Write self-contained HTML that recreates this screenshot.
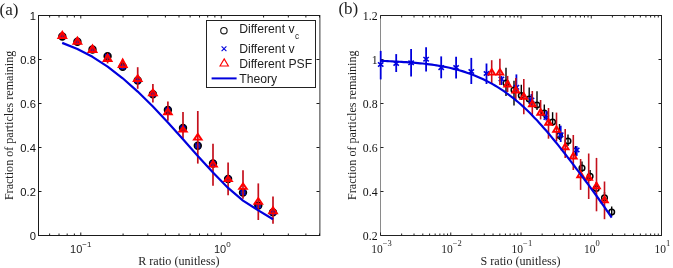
<!DOCTYPE html>
<html><head><meta charset="utf-8"><style>
html,body{margin:0;padding:0;background:#fff;width:673px;height:268px;overflow:hidden}
svg{display:block;will-change:transform}
</style></head><body>
<svg width="673" height="268" viewBox="0 0 673 268">
<rect width="673" height="268" fill="#fff"/>
<line x1="38.0" y1="15.5" x2="320.0" y2="15.5" stroke="#1a1a1a" stroke-width="1"/>
<line x1="38.0" y1="235.5" x2="320.0" y2="235.5" stroke="#1a1a1a" stroke-width="1"/>
<line x1="38.5" y1="15.0" x2="38.5" y2="236.0" stroke="#1a1a1a" stroke-width="1"/>
<line x1="319.9" y1="15.0" x2="319.9" y2="236.0" stroke="#333" stroke-width="1"/>
<line x1="38.5" y1="235.50" x2="41.5" y2="235.50" stroke="#1a1a1a" stroke-width="1"/>
<line x1="319.5" y1="235.50" x2="316.5" y2="235.50" stroke="#1a1a1a" stroke-width="1"/>
<line x1="38.5" y1="191.50" x2="41.5" y2="191.50" stroke="#1a1a1a" stroke-width="1"/>
<line x1="319.5" y1="191.50" x2="316.5" y2="191.50" stroke="#1a1a1a" stroke-width="1"/>
<line x1="38.5" y1="147.50" x2="41.5" y2="147.50" stroke="#1a1a1a" stroke-width="1"/>
<line x1="319.5" y1="147.50" x2="316.5" y2="147.50" stroke="#1a1a1a" stroke-width="1"/>
<line x1="38.5" y1="103.50" x2="41.5" y2="103.50" stroke="#1a1a1a" stroke-width="1"/>
<line x1="319.5" y1="103.50" x2="316.5" y2="103.50" stroke="#1a1a1a" stroke-width="1"/>
<line x1="38.5" y1="59.50" x2="41.5" y2="59.50" stroke="#1a1a1a" stroke-width="1"/>
<line x1="319.5" y1="59.50" x2="316.5" y2="59.50" stroke="#1a1a1a" stroke-width="1"/>
<line x1="38.5" y1="15.50" x2="41.5" y2="15.50" stroke="#1a1a1a" stroke-width="1"/>
<line x1="319.5" y1="15.50" x2="316.5" y2="15.50" stroke="#1a1a1a" stroke-width="1"/>
<line x1="38.50" y1="235.5" x2="38.50" y2="233.5" stroke="#1a1a1a" stroke-width="1"/>
<line x1="38.50" y1="15.5" x2="38.50" y2="17.5" stroke="#1a1a1a" stroke-width="1"/>
<line x1="49.62" y1="235.5" x2="49.62" y2="233.5" stroke="#1a1a1a" stroke-width="1"/>
<line x1="49.62" y1="15.5" x2="49.62" y2="17.5" stroke="#1a1a1a" stroke-width="1"/>
<line x1="59.03" y1="235.5" x2="59.03" y2="233.5" stroke="#1a1a1a" stroke-width="1"/>
<line x1="59.03" y1="15.5" x2="59.03" y2="17.5" stroke="#1a1a1a" stroke-width="1"/>
<line x1="67.18" y1="235.5" x2="67.18" y2="233.5" stroke="#1a1a1a" stroke-width="1"/>
<line x1="67.18" y1="15.5" x2="67.18" y2="17.5" stroke="#1a1a1a" stroke-width="1"/>
<line x1="74.37" y1="235.5" x2="74.37" y2="233.5" stroke="#1a1a1a" stroke-width="1"/>
<line x1="74.37" y1="15.5" x2="74.37" y2="17.5" stroke="#1a1a1a" stroke-width="1"/>
<line x1="80.79" y1="235.5" x2="80.79" y2="232.5" stroke="#1a1a1a" stroke-width="1"/>
<line x1="80.79" y1="15.5" x2="80.79" y2="18.5" stroke="#1a1a1a" stroke-width="1"/>
<line x1="123.09" y1="235.5" x2="123.09" y2="233.5" stroke="#1a1a1a" stroke-width="1"/>
<line x1="123.09" y1="15.5" x2="123.09" y2="17.5" stroke="#1a1a1a" stroke-width="1"/>
<line x1="147.83" y1="235.5" x2="147.83" y2="233.5" stroke="#1a1a1a" stroke-width="1"/>
<line x1="147.83" y1="15.5" x2="147.83" y2="17.5" stroke="#1a1a1a" stroke-width="1"/>
<line x1="165.38" y1="235.5" x2="165.38" y2="233.5" stroke="#1a1a1a" stroke-width="1"/>
<line x1="165.38" y1="15.5" x2="165.38" y2="17.5" stroke="#1a1a1a" stroke-width="1"/>
<line x1="179.00" y1="235.5" x2="179.00" y2="233.5" stroke="#1a1a1a" stroke-width="1"/>
<line x1="179.00" y1="15.5" x2="179.00" y2="17.5" stroke="#1a1a1a" stroke-width="1"/>
<line x1="190.12" y1="235.5" x2="190.12" y2="233.5" stroke="#1a1a1a" stroke-width="1"/>
<line x1="190.12" y1="15.5" x2="190.12" y2="17.5" stroke="#1a1a1a" stroke-width="1"/>
<line x1="199.53" y1="235.5" x2="199.53" y2="233.5" stroke="#1a1a1a" stroke-width="1"/>
<line x1="199.53" y1="15.5" x2="199.53" y2="17.5" stroke="#1a1a1a" stroke-width="1"/>
<line x1="207.68" y1="235.5" x2="207.68" y2="233.5" stroke="#1a1a1a" stroke-width="1"/>
<line x1="207.68" y1="15.5" x2="207.68" y2="17.5" stroke="#1a1a1a" stroke-width="1"/>
<line x1="214.87" y1="235.5" x2="214.87" y2="233.5" stroke="#1a1a1a" stroke-width="1"/>
<line x1="214.87" y1="15.5" x2="214.87" y2="17.5" stroke="#1a1a1a" stroke-width="1"/>
<line x1="221.29" y1="235.5" x2="221.29" y2="232.5" stroke="#1a1a1a" stroke-width="1"/>
<line x1="221.29" y1="15.5" x2="221.29" y2="18.5" stroke="#1a1a1a" stroke-width="1"/>
<line x1="263.59" y1="235.5" x2="263.59" y2="233.5" stroke="#1a1a1a" stroke-width="1"/>
<line x1="263.59" y1="15.5" x2="263.59" y2="17.5" stroke="#1a1a1a" stroke-width="1"/>
<line x1="288.33" y1="235.5" x2="288.33" y2="233.5" stroke="#1a1a1a" stroke-width="1"/>
<line x1="288.33" y1="15.5" x2="288.33" y2="17.5" stroke="#1a1a1a" stroke-width="1"/>
<line x1="305.88" y1="235.5" x2="305.88" y2="233.5" stroke="#1a1a1a" stroke-width="1"/>
<line x1="305.88" y1="15.5" x2="305.88" y2="17.5" stroke="#1a1a1a" stroke-width="1"/>
<line x1="319.50" y1="235.5" x2="319.50" y2="233.5" stroke="#1a1a1a" stroke-width="1"/>
<line x1="319.50" y1="15.5" x2="319.50" y2="17.5" stroke="#1a1a1a" stroke-width="1"/>
<line x1="380.0" y1="15.5" x2="662.0" y2="15.5" stroke="#222" stroke-width="1"/>
<line x1="380.0" y1="235.5" x2="662.0" y2="235.5" stroke="#222" stroke-width="1"/>
<line x1="380.5" y1="15.0" x2="380.5" y2="236.0" stroke="#8a8a8a" stroke-width="1"/>
<line x1="661.5" y1="15.0" x2="661.5" y2="236.0" stroke="#222" stroke-width="1"/>
<line x1="380.5" y1="235.50" x2="383.5" y2="235.50" stroke="#222" stroke-width="1"/>
<line x1="661.5" y1="235.50" x2="658.5" y2="235.50" stroke="#222" stroke-width="1"/>
<line x1="380.5" y1="191.50" x2="383.5" y2="191.50" stroke="#222" stroke-width="1"/>
<line x1="661.5" y1="191.50" x2="658.5" y2="191.50" stroke="#222" stroke-width="1"/>
<line x1="380.5" y1="147.50" x2="383.5" y2="147.50" stroke="#222" stroke-width="1"/>
<line x1="661.5" y1="147.50" x2="658.5" y2="147.50" stroke="#222" stroke-width="1"/>
<line x1="380.5" y1="103.50" x2="383.5" y2="103.50" stroke="#222" stroke-width="1"/>
<line x1="661.5" y1="103.50" x2="658.5" y2="103.50" stroke="#222" stroke-width="1"/>
<line x1="380.5" y1="59.50" x2="383.5" y2="59.50" stroke="#222" stroke-width="1"/>
<line x1="661.5" y1="59.50" x2="658.5" y2="59.50" stroke="#222" stroke-width="1"/>
<line x1="380.5" y1="15.50" x2="383.5" y2="15.50" stroke="#222" stroke-width="1"/>
<line x1="661.5" y1="15.50" x2="658.5" y2="15.50" stroke="#222" stroke-width="1"/>
<line x1="380.50" y1="235.5" x2="380.50" y2="232.5" stroke="#222" stroke-width="1"/>
<line x1="380.50" y1="15.5" x2="380.50" y2="18.5" stroke="#222" stroke-width="1"/>
<line x1="401.65" y1="235.5" x2="401.65" y2="233.5" stroke="#222" stroke-width="1"/>
<line x1="401.65" y1="15.5" x2="401.65" y2="17.5" stroke="#222" stroke-width="1"/>
<line x1="414.02" y1="235.5" x2="414.02" y2="233.5" stroke="#222" stroke-width="1"/>
<line x1="414.02" y1="15.5" x2="414.02" y2="17.5" stroke="#222" stroke-width="1"/>
<line x1="422.79" y1="235.5" x2="422.79" y2="233.5" stroke="#222" stroke-width="1"/>
<line x1="422.79" y1="15.5" x2="422.79" y2="17.5" stroke="#222" stroke-width="1"/>
<line x1="429.60" y1="235.5" x2="429.60" y2="233.5" stroke="#222" stroke-width="1"/>
<line x1="429.60" y1="15.5" x2="429.60" y2="17.5" stroke="#222" stroke-width="1"/>
<line x1="435.17" y1="235.5" x2="435.17" y2="233.5" stroke="#222" stroke-width="1"/>
<line x1="435.17" y1="15.5" x2="435.17" y2="17.5" stroke="#222" stroke-width="1"/>
<line x1="439.87" y1="235.5" x2="439.87" y2="233.5" stroke="#222" stroke-width="1"/>
<line x1="439.87" y1="15.5" x2="439.87" y2="17.5" stroke="#222" stroke-width="1"/>
<line x1="443.94" y1="235.5" x2="443.94" y2="233.5" stroke="#222" stroke-width="1"/>
<line x1="443.94" y1="15.5" x2="443.94" y2="17.5" stroke="#222" stroke-width="1"/>
<line x1="447.54" y1="235.5" x2="447.54" y2="233.5" stroke="#222" stroke-width="1"/>
<line x1="447.54" y1="15.5" x2="447.54" y2="17.5" stroke="#222" stroke-width="1"/>
<line x1="450.75" y1="235.5" x2="450.75" y2="232.5" stroke="#222" stroke-width="1"/>
<line x1="450.75" y1="15.5" x2="450.75" y2="18.5" stroke="#222" stroke-width="1"/>
<line x1="471.90" y1="235.5" x2="471.90" y2="233.5" stroke="#222" stroke-width="1"/>
<line x1="471.90" y1="15.5" x2="471.90" y2="17.5" stroke="#222" stroke-width="1"/>
<line x1="484.27" y1="235.5" x2="484.27" y2="233.5" stroke="#222" stroke-width="1"/>
<line x1="484.27" y1="15.5" x2="484.27" y2="17.5" stroke="#222" stroke-width="1"/>
<line x1="493.04" y1="235.5" x2="493.04" y2="233.5" stroke="#222" stroke-width="1"/>
<line x1="493.04" y1="15.5" x2="493.04" y2="17.5" stroke="#222" stroke-width="1"/>
<line x1="499.85" y1="235.5" x2="499.85" y2="233.5" stroke="#222" stroke-width="1"/>
<line x1="499.85" y1="15.5" x2="499.85" y2="17.5" stroke="#222" stroke-width="1"/>
<line x1="505.42" y1="235.5" x2="505.42" y2="233.5" stroke="#222" stroke-width="1"/>
<line x1="505.42" y1="15.5" x2="505.42" y2="17.5" stroke="#222" stroke-width="1"/>
<line x1="510.12" y1="235.5" x2="510.12" y2="233.5" stroke="#222" stroke-width="1"/>
<line x1="510.12" y1="15.5" x2="510.12" y2="17.5" stroke="#222" stroke-width="1"/>
<line x1="514.19" y1="235.5" x2="514.19" y2="233.5" stroke="#222" stroke-width="1"/>
<line x1="514.19" y1="15.5" x2="514.19" y2="17.5" stroke="#222" stroke-width="1"/>
<line x1="517.79" y1="235.5" x2="517.79" y2="233.5" stroke="#222" stroke-width="1"/>
<line x1="517.79" y1="15.5" x2="517.79" y2="17.5" stroke="#222" stroke-width="1"/>
<line x1="521.00" y1="235.5" x2="521.00" y2="232.5" stroke="#222" stroke-width="1"/>
<line x1="521.00" y1="15.5" x2="521.00" y2="18.5" stroke="#222" stroke-width="1"/>
<line x1="542.15" y1="235.5" x2="542.15" y2="233.5" stroke="#222" stroke-width="1"/>
<line x1="542.15" y1="15.5" x2="542.15" y2="17.5" stroke="#222" stroke-width="1"/>
<line x1="554.52" y1="235.5" x2="554.52" y2="233.5" stroke="#222" stroke-width="1"/>
<line x1="554.52" y1="15.5" x2="554.52" y2="17.5" stroke="#222" stroke-width="1"/>
<line x1="563.29" y1="235.5" x2="563.29" y2="233.5" stroke="#222" stroke-width="1"/>
<line x1="563.29" y1="15.5" x2="563.29" y2="17.5" stroke="#222" stroke-width="1"/>
<line x1="570.10" y1="235.5" x2="570.10" y2="233.5" stroke="#222" stroke-width="1"/>
<line x1="570.10" y1="15.5" x2="570.10" y2="17.5" stroke="#222" stroke-width="1"/>
<line x1="575.67" y1="235.5" x2="575.67" y2="233.5" stroke="#222" stroke-width="1"/>
<line x1="575.67" y1="15.5" x2="575.67" y2="17.5" stroke="#222" stroke-width="1"/>
<line x1="580.37" y1="235.5" x2="580.37" y2="233.5" stroke="#222" stroke-width="1"/>
<line x1="580.37" y1="15.5" x2="580.37" y2="17.5" stroke="#222" stroke-width="1"/>
<line x1="584.44" y1="235.5" x2="584.44" y2="233.5" stroke="#222" stroke-width="1"/>
<line x1="584.44" y1="15.5" x2="584.44" y2="17.5" stroke="#222" stroke-width="1"/>
<line x1="588.04" y1="235.5" x2="588.04" y2="233.5" stroke="#222" stroke-width="1"/>
<line x1="588.04" y1="15.5" x2="588.04" y2="17.5" stroke="#222" stroke-width="1"/>
<line x1="591.25" y1="235.5" x2="591.25" y2="232.5" stroke="#222" stroke-width="1"/>
<line x1="591.25" y1="15.5" x2="591.25" y2="18.5" stroke="#222" stroke-width="1"/>
<line x1="612.40" y1="235.5" x2="612.40" y2="233.5" stroke="#222" stroke-width="1"/>
<line x1="612.40" y1="15.5" x2="612.40" y2="17.5" stroke="#222" stroke-width="1"/>
<line x1="624.77" y1="235.5" x2="624.77" y2="233.5" stroke="#222" stroke-width="1"/>
<line x1="624.77" y1="15.5" x2="624.77" y2="17.5" stroke="#222" stroke-width="1"/>
<line x1="633.54" y1="235.5" x2="633.54" y2="233.5" stroke="#222" stroke-width="1"/>
<line x1="633.54" y1="15.5" x2="633.54" y2="17.5" stroke="#222" stroke-width="1"/>
<line x1="640.35" y1="235.5" x2="640.35" y2="233.5" stroke="#222" stroke-width="1"/>
<line x1="640.35" y1="15.5" x2="640.35" y2="17.5" stroke="#222" stroke-width="1"/>
<line x1="645.92" y1="235.5" x2="645.92" y2="233.5" stroke="#222" stroke-width="1"/>
<line x1="645.92" y1="15.5" x2="645.92" y2="17.5" stroke="#222" stroke-width="1"/>
<line x1="650.62" y1="235.5" x2="650.62" y2="233.5" stroke="#222" stroke-width="1"/>
<line x1="650.62" y1="15.5" x2="650.62" y2="17.5" stroke="#222" stroke-width="1"/>
<line x1="654.69" y1="235.5" x2="654.69" y2="233.5" stroke="#222" stroke-width="1"/>
<line x1="654.69" y1="15.5" x2="654.69" y2="17.5" stroke="#222" stroke-width="1"/>
<line x1="658.29" y1="235.5" x2="658.29" y2="233.5" stroke="#222" stroke-width="1"/>
<line x1="658.29" y1="15.5" x2="658.29" y2="17.5" stroke="#222" stroke-width="1"/>
<line x1="661.50" y1="235.5" x2="661.50" y2="232.5" stroke="#222" stroke-width="1"/>
<line x1="661.50" y1="15.5" x2="661.50" y2="18.5" stroke="#222" stroke-width="1"/>
<text x="35.90" y="240.00" font-family='"Liberation Sans", sans-serif' font-size="11.2" text-anchor="end" fill="#111">0</text>
<text x="35.90" y="196.00" font-family='"Liberation Sans", sans-serif' font-size="11.2" text-anchor="end" fill="#111">0.2</text>
<text x="35.90" y="152.00" font-family='"Liberation Sans", sans-serif' font-size="11.2" text-anchor="end" fill="#111">0.4</text>
<text x="35.90" y="108.00" font-family='"Liberation Sans", sans-serif' font-size="11.2" text-anchor="end" fill="#111">0.6</text>
<text x="35.90" y="64.00" font-family='"Liberation Sans", sans-serif' font-size="11.2" text-anchor="end" fill="#111">0.8</text>
<text x="35.90" y="20.00" font-family='"Liberation Sans", sans-serif' font-size="11.2" text-anchor="end" fill="#111">1</text>
<text x="377.60" y="239.90" font-family='"Liberation Serif", serif' font-size="11.8" text-anchor="end" fill="#111">0.2</text>
<text x="377.60" y="195.90" font-family='"Liberation Serif", serif' font-size="11.8" text-anchor="end" fill="#111">0.4</text>
<text x="377.60" y="151.90" font-family='"Liberation Serif", serif' font-size="11.8" text-anchor="end" fill="#111">0.6</text>
<text x="377.60" y="107.90" font-family='"Liberation Serif", serif' font-size="11.8" text-anchor="end" fill="#111">0.8</text>
<text x="377.60" y="63.90" font-family='"Liberation Serif", serif' font-size="11.8" text-anchor="end" fill="#111">1</text>
<text x="377.60" y="19.90" font-family='"Liberation Serif", serif' font-size="11.8" text-anchor="end" fill="#111">1.2</text>
<text x="70.10" y="253.30" font-family='"Liberation Sans", sans-serif' font-size="11" fill="#1e1e1e">10<tspan font-size="8" dy="-6.8">&#8722;1</tspan></text>
<text x="213.90" y="253.30" font-family='"Liberation Sans", sans-serif' font-size="11" fill="#1e1e1e">10<tspan font-size="8" dy="-6.8">0</tspan></text>
<text x="371.20" y="252.60" font-family='"Liberation Serif", serif' font-size="11.5" fill="#1e1e1e">10<tspan font-size="8.5" dy="-6.8">&#8722;3</tspan></text>
<text x="441.30" y="252.60" font-family='"Liberation Serif", serif' font-size="11.5" fill="#1e1e1e">10<tspan font-size="8.5" dy="-6.8">&#8722;2</tspan></text>
<text x="511.60" y="252.60" font-family='"Liberation Serif", serif' font-size="11.5" fill="#1e1e1e">10<tspan font-size="8.5" dy="-6.8">&#8722;1</tspan></text>
<text x="584.10" y="252.60" font-family='"Liberation Serif", serif' font-size="11.5" fill="#1e1e1e">10<tspan font-size="8.5" dy="-6.8">0</tspan></text>
<text x="654.40" y="252.60" font-family='"Liberation Serif", serif' font-size="11.5" fill="#1e1e1e">10<tspan font-size="8.5" dy="-6.8">1</tspan></text>
<text x="178.8" y="265" font-family='"Liberation Serif", serif' font-size="12.1" text-anchor="middle" fill="#1e1e1e">R ratio (unitless)</text>
<text x="520.5" y="264.8" font-family='"Liberation Serif", serif' font-size="12.1" text-anchor="middle" fill="#1e1e1e">S ratio (unitless)</text>
<text transform="translate(12.6,125.4) rotate(-90)" font-family='"Liberation Serif", serif' font-size="12.1" text-anchor="middle" fill="#1e1e1e">Fraction of particles remaining</text>
<text transform="translate(356.0,125.2) rotate(-90)" font-family='"Liberation Serif", serif' font-size="12.1" text-anchor="middle" fill="#1e1e1e">Fraction of particles remaining</text>
<text x="-0.4" y="14.6" font-family='"Liberation Serif", serif' font-size="17" fill="#1e1e1e">(a)</text>
<text x="338.4" y="14.4" font-family='"Liberation Serif", serif' font-size="17" fill="#1e1e1e">(b)</text>
<circle cx="62.30" cy="36.50" r="3.4" fill="#2c2c8c" stroke="#000" stroke-width="1.6"/>
<circle cx="77.40" cy="41.70" r="3.4" fill="#2c2c8c" stroke="#000" stroke-width="1.6"/>
<circle cx="92.50" cy="49.50" r="3.4" fill="#2c2c8c" stroke="#000" stroke-width="1.6"/>
<circle cx="107.60" cy="56.30" r="3.4" fill="#2c2c8c" stroke="#000" stroke-width="1.6"/>
<circle cx="122.70" cy="66.80" r="3.4" fill="#2c2c8c" stroke="#000" stroke-width="1.6"/>
<circle cx="137.70" cy="80.50" r="3.4" fill="#2c2c8c" stroke="#000" stroke-width="1.6"/>
<circle cx="152.90" cy="94.20" r="3.4" fill="#2c2c8c" stroke="#000" stroke-width="1.6"/>
<circle cx="167.90" cy="110.00" r="3.4" fill="#2c2c8c" stroke="#000" stroke-width="1.6"/>
<circle cx="183.00" cy="128.00" r="3.4" fill="#2c2c8c" stroke="#000" stroke-width="1.6"/>
<circle cx="197.80" cy="145.80" r="3.4" fill="#2c2c8c" stroke="#000" stroke-width="1.6"/>
<circle cx="213.00" cy="163.50" r="3.4" fill="#2c2c8c" stroke="#000" stroke-width="1.6"/>
<circle cx="228.10" cy="179.00" r="3.4" fill="#2c2c8c" stroke="#000" stroke-width="1.6"/>
<circle cx="243.00" cy="192.60" r="3.4" fill="#2c2c8c" stroke="#000" stroke-width="1.6"/>
<circle cx="258.30" cy="205.60" r="3.4" fill="#2c2c8c" stroke="#000" stroke-width="1.6"/>
<circle cx="273.00" cy="212.40" r="3.4" fill="#2c2c8c" stroke="#000" stroke-width="1.6"/>
<path d="M59.90,34.10 L64.70,38.90 M64.70,34.10 L59.90,38.90" stroke="#0000dd" stroke-width="1.3"/>
<path d="M75.00,39.30 L79.80,44.10 M79.80,39.30 L75.00,44.10" stroke="#0000dd" stroke-width="1.3"/>
<path d="M90.10,47.10 L94.90,51.90 M94.90,47.10 L90.10,51.90" stroke="#0000dd" stroke-width="1.3"/>
<path d="M105.20,53.90 L110.00,58.70 M110.00,53.90 L105.20,58.70" stroke="#0000dd" stroke-width="1.3"/>
<path d="M120.30,64.40 L125.10,69.20 M125.10,64.40 L120.30,69.20" stroke="#0000dd" stroke-width="1.3"/>
<path d="M135.30,78.10 L140.10,82.90 M140.10,78.10 L135.30,82.90" stroke="#0000dd" stroke-width="1.3"/>
<path d="M150.50,91.80 L155.30,96.60 M155.30,91.80 L150.50,96.60" stroke="#0000dd" stroke-width="1.3"/>
<path d="M165.50,107.60 L170.30,112.40 M170.30,107.60 L165.50,112.40" stroke="#0000dd" stroke-width="1.3"/>
<path d="M180.60,125.60 L185.40,130.40 M185.40,125.60 L180.60,130.40" stroke="#0000dd" stroke-width="1.3"/>
<path d="M195.40,143.40 L200.20,148.20 M200.20,143.40 L195.40,148.20" stroke="#0000dd" stroke-width="1.3"/>
<path d="M210.60,161.10 L215.40,165.90 M215.40,161.10 L210.60,165.90" stroke="#0000dd" stroke-width="1.3"/>
<path d="M225.70,176.60 L230.50,181.40 M230.50,176.60 L225.70,181.40" stroke="#0000dd" stroke-width="1.3"/>
<path d="M240.60,190.20 L245.40,195.00 M245.40,190.20 L240.60,195.00" stroke="#0000dd" stroke-width="1.3"/>
<path d="M255.90,203.20 L260.70,208.00 M260.70,203.20 L255.90,208.00" stroke="#0000dd" stroke-width="1.3"/>
<path d="M270.60,210.00 L275.40,214.80 M275.40,210.00 L270.60,214.80" stroke="#0000dd" stroke-width="1.3"/>
<line x1="62.30" y1="32.00" x2="62.30" y2="38.00" stroke="#c4101c" stroke-width="1.7"/>
<line x1="77.40" y1="37.80" x2="77.40" y2="43.80" stroke="#c4101c" stroke-width="1.7"/>
<line x1="92.50" y1="45.60" x2="92.50" y2="51.90" stroke="#c4101c" stroke-width="1.7"/>
<line x1="107.60" y1="54.60" x2="107.60" y2="63.40" stroke="#c4101c" stroke-width="1.7"/>
<line x1="122.70" y1="59.60" x2="122.70" y2="66.90" stroke="#c4101c" stroke-width="1.7"/>
<line x1="137.70" y1="67.20" x2="137.70" y2="88.80" stroke="#c4101c" stroke-width="1.7"/>
<line x1="152.90" y1="83.90" x2="152.90" y2="102.40" stroke="#c4101c" stroke-width="1.7"/>
<line x1="167.90" y1="101.60" x2="167.90" y2="120.80" stroke="#c4101c" stroke-width="1.7"/>
<line x1="183.00" y1="112.00" x2="183.00" y2="138.50" stroke="#c4101c" stroke-width="1.7"/>
<line x1="197.80" y1="111.00" x2="197.80" y2="163.60" stroke="#c4101c" stroke-width="1.7"/>
<line x1="213.00" y1="143.70" x2="213.00" y2="185.70" stroke="#c4101c" stroke-width="1.7"/>
<line x1="228.10" y1="162.60" x2="228.10" y2="195.30" stroke="#c4101c" stroke-width="1.7"/>
<line x1="243.00" y1="170.20" x2="243.00" y2="198.80" stroke="#c4101c" stroke-width="1.7"/>
<line x1="258.30" y1="183.40" x2="258.30" y2="220.00" stroke="#c4101c" stroke-width="1.7"/>
<line x1="273.00" y1="196.40" x2="273.00" y2="223.80" stroke="#c4101c" stroke-width="1.7"/>
<path d="M62.30,30.00 L67.90,39.00 L56.70,39.00 Z M62.30,33.99 L60.49,36.90 L64.11,36.90 Z" fill="#ff0000" fill-rule="evenodd"/>
<path d="M77.40,35.80 L83.00,44.80 L71.80,44.80 Z M77.40,39.79 L75.59,42.70 L79.21,42.70 Z" fill="#ff0000" fill-rule="evenodd"/>
<path d="M92.50,43.60 L98.10,52.90 L86.90,52.90 Z M92.50,47.59 L90.57,50.80 L94.43,50.80 Z" fill="#ff0000" fill-rule="evenodd"/>
<path d="M107.60,52.60 L113.20,61.90 L102.00,61.90 Z M107.60,56.59 L105.67,59.80 L109.53,59.80 Z" fill="#ff0000" fill-rule="evenodd"/>
<path d="M122.70,57.60 L128.30,67.90 L117.10,67.90 Z M122.70,61.59 L120.41,65.80 L124.99,65.80 Z" fill="#ff0000" fill-rule="evenodd"/>
<path d="M137.70,73.50 L143.30,81.90 L132.10,81.90 Z M137.70,76.92 L135.58,80.10 L139.82,80.10 Z" fill="#ff0000" fill-rule="evenodd"/>
<path d="M152.90,87.80 L158.50,96.20 L147.30,96.20 Z M152.90,91.22 L150.78,94.40 L155.02,94.40 Z" fill="#ff0000" fill-rule="evenodd"/>
<path d="M167.90,106.80 L173.50,115.20 L162.30,115.20 Z M167.90,110.22 L165.78,113.40 L170.02,113.40 Z" fill="#ff0000" fill-rule="evenodd"/>
<path d="M183.00,125.40 L188.60,132.50 L177.40,132.50 Z M183.00,128.82 L181.52,130.70 L184.48,130.70 Z" fill="#ff0000" fill-rule="evenodd"/>
<path d="M197.80,132.30 L203.40,140.50 L192.20,140.50 Z M197.80,135.72 L195.76,138.70 L199.84,138.70 Z" fill="#ff0000" fill-rule="evenodd"/>
<path d="M213.00,159.00 L218.60,167.50 L207.40,167.50 Z M213.00,162.42 L210.84,165.70 L215.16,165.70 Z" fill="#ff0000" fill-rule="evenodd"/>
<path d="M228.10,174.80 L233.70,181.90 L222.50,181.90 Z M228.10,178.22 L226.62,180.10 L229.58,180.10 Z" fill="#ff0000" fill-rule="evenodd"/>
<path d="M243.00,181.80 L248.60,189.70 L237.40,189.70 Z M243.00,185.22 L241.10,187.90 L244.90,187.90 Z" fill="#ff0000" fill-rule="evenodd"/>
<path d="M258.30,196.40 L263.90,204.80 L252.70,204.80 Z M258.30,199.82 L256.18,203.00 L260.42,203.00 Z" fill="#ff0000" fill-rule="evenodd"/>
<path d="M273.00,205.40 L278.60,214.20 L267.40,214.20 Z M273.00,208.82 L270.72,212.40 L275.28,212.40 Z" fill="#ff0000" fill-rule="evenodd"/>
<path d="M62.20,42.86 L77.40,48.92 L92.50,56.82 L107.60,66.62 L122.70,78.28 L137.70,91.58 L152.90,106.56 L167.90,122.50 L183.00,139.28 L197.80,155.91 L213.00,172.56 L228.10,187.94 L243.00,200.60 L258.30,210.40 L273.00,219.20" fill="none" stroke="#0000dd" stroke-width="2.2" stroke-linejoin="round"/>
<line x1="506.00" y1="67.80" x2="506.00" y2="96.00" stroke="#000" stroke-width="1.4"/>
<line x1="514.00" y1="80.70" x2="514.00" y2="105.50" stroke="#000" stroke-width="1.4"/>
<line x1="521.30" y1="84.80" x2="521.30" y2="100.00" stroke="#000" stroke-width="1.4"/>
<line x1="529.20" y1="87.40" x2="529.20" y2="104.00" stroke="#000" stroke-width="1.4"/>
<line x1="537.00" y1="91.30" x2="537.00" y2="110.00" stroke="#000" stroke-width="1.4"/>
<line x1="544.30" y1="104.40" x2="544.30" y2="118.00" stroke="#000" stroke-width="1.4"/>
<line x1="552.60" y1="112.20" x2="552.60" y2="126.00" stroke="#000" stroke-width="1.4"/>
<line x1="559.50" y1="124.00" x2="559.50" y2="140.00" stroke="#000" stroke-width="1.4"/>
<line x1="568.00" y1="134.50" x2="568.00" y2="146.00" stroke="#000" stroke-width="1.4"/>
<line x1="575.50" y1="146.00" x2="575.50" y2="158.00" stroke="#000" stroke-width="1.4"/>
<line x1="582.00" y1="161.40" x2="582.00" y2="172.00" stroke="#000" stroke-width="1.4"/>
<line x1="590.10" y1="170.00" x2="590.10" y2="181.00" stroke="#000" stroke-width="1.4"/>
<line x1="596.30" y1="182.00" x2="596.30" y2="193.00" stroke="#000" stroke-width="1.4"/>
<line x1="604.50" y1="192.00" x2="604.50" y2="202.00" stroke="#000" stroke-width="1.4"/>
<line x1="611.70" y1="206.50" x2="611.70" y2="216.00" stroke="#000" stroke-width="1.4"/>
<circle cx="506.00" cy="83.00" r="2.8" fill="none" stroke="#000" stroke-width="1.5"/>
<circle cx="514.00" cy="90.00" r="2.8" fill="none" stroke="#000" stroke-width="1.5"/>
<circle cx="521.30" cy="95.50" r="2.8" fill="none" stroke="#000" stroke-width="1.5"/>
<circle cx="529.20" cy="99.00" r="2.8" fill="none" stroke="#000" stroke-width="1.5"/>
<circle cx="537.00" cy="105.00" r="2.8" fill="none" stroke="#000" stroke-width="1.5"/>
<circle cx="544.30" cy="113.00" r="2.8" fill="none" stroke="#000" stroke-width="1.5"/>
<circle cx="552.60" cy="122.00" r="2.8" fill="none" stroke="#000" stroke-width="1.5"/>
<circle cx="559.50" cy="135.50" r="2.8" fill="none" stroke="#000" stroke-width="1.5"/>
<circle cx="568.00" cy="141.00" r="2.8" fill="none" stroke="#000" stroke-width="1.5"/>
<circle cx="582.00" cy="168.00" r="2.8" fill="none" stroke="#000" stroke-width="1.5"/>
<circle cx="590.10" cy="176.20" r="2.8" fill="none" stroke="#000" stroke-width="1.5"/>
<circle cx="596.30" cy="188.50" r="2.8" fill="none" stroke="#000" stroke-width="1.5"/>
<circle cx="604.50" cy="197.70" r="2.8" fill="none" stroke="#000" stroke-width="1.5"/>
<circle cx="611.70" cy="212.00" r="2.8" fill="none" stroke="#000" stroke-width="1.5"/>
<line x1="380.70" y1="50.90" x2="380.70" y2="79.40" stroke="#0000dd" stroke-width="1.8"/>
<path d="M378.00,62.30 L383.40,66.70 M383.40,62.30 L378.00,66.70" stroke="#0000dd" stroke-width="1.6"/>
<line x1="396.20" y1="54.10" x2="396.20" y2="72.00" stroke="#0000dd" stroke-width="1.8"/>
<path d="M393.50,61.30 L398.90,65.70 M398.90,61.30 L393.50,65.70" stroke="#0000dd" stroke-width="1.6"/>
<line x1="411.10" y1="49.00" x2="411.10" y2="76.40" stroke="#0000dd" stroke-width="1.8"/>
<path d="M408.40,60.60 L413.80,65.00 M413.80,60.60 L408.40,65.00" stroke="#0000dd" stroke-width="1.6"/>
<line x1="426.10" y1="47.20" x2="426.10" y2="71.50" stroke="#0000dd" stroke-width="1.8"/>
<path d="M423.40,57.00 L428.80,61.40 M428.80,57.00 L423.40,61.40" stroke="#0000dd" stroke-width="1.6"/>
<line x1="441.20" y1="56.40" x2="441.20" y2="78.30" stroke="#0000dd" stroke-width="1.8"/>
<path d="M438.50,65.40 L443.90,69.80 M443.90,65.40 L438.50,69.80" stroke="#0000dd" stroke-width="1.6"/>
<line x1="456.10" y1="56.80" x2="456.10" y2="78.50" stroke="#0000dd" stroke-width="1.8"/>
<path d="M453.40,65.30 L458.80,69.70 M458.80,65.30 L453.40,69.70" stroke="#0000dd" stroke-width="1.6"/>
<line x1="471.30" y1="57.90" x2="471.30" y2="84.00" stroke="#0000dd" stroke-width="1.8"/>
<path d="M468.60,69.30 L474.00,73.70 M474.00,69.30 L468.60,73.70" stroke="#0000dd" stroke-width="1.6"/>
<line x1="486.50" y1="63.50" x2="486.50" y2="84.00" stroke="#0000dd" stroke-width="1.8"/>
<path d="M483.80,71.30 L489.20,75.70 M489.20,71.30 L483.80,75.70" stroke="#0000dd" stroke-width="1.6"/>
<line x1="501.40" y1="75.90" x2="501.40" y2="85.00" stroke="#0000dd" stroke-width="1.8"/>
<path d="M498.70,76.80 L504.10,81.20 M504.10,76.80 L498.70,81.20" stroke="#0000dd" stroke-width="1.6"/>
<line x1="516.40" y1="74.40" x2="516.40" y2="93.00" stroke="#0000dd" stroke-width="1.8"/>
<path d="M513.70,85.10 L519.10,89.50 M519.10,85.10 L513.70,89.50" stroke="#0000dd" stroke-width="1.6"/>
<line x1="531.50" y1="94.00" x2="531.50" y2="106.00" stroke="#0000dd" stroke-width="1.8"/>
<path d="M528.80,97.80 L534.20,102.20 M534.20,97.80 L528.80,102.20" stroke="#0000dd" stroke-width="1.6"/>
<line x1="546.30" y1="111.00" x2="546.30" y2="120.50" stroke="#0000dd" stroke-width="1.8"/>
<path d="M543.60,115.30 L549.00,119.70 M549.00,115.30 L543.60,119.70" stroke="#0000dd" stroke-width="1.6"/>
<line x1="560.70" y1="125.70" x2="560.70" y2="142.00" stroke="#0000dd" stroke-width="1.8"/>
<path d="M558.00,132.60 L563.40,137.00 M563.40,132.60 L558.00,137.00" stroke="#0000dd" stroke-width="1.6"/>
<line x1="576.70" y1="146.10" x2="576.70" y2="155.90" stroke="#0000dd" stroke-width="1.8"/>
<path d="M574.00,147.80 L579.40,152.20 M579.40,147.80 L574.00,152.20" stroke="#0000dd" stroke-width="1.6"/>
<line x1="491.70" y1="60.20" x2="491.70" y2="84.00" stroke="#c4101c" stroke-width="1.6"/>
<line x1="499.90" y1="58.70" x2="499.90" y2="85.00" stroke="#c4101c" stroke-width="1.6"/>
<line x1="507.60" y1="75.90" x2="507.60" y2="92.00" stroke="#c4101c" stroke-width="1.6"/>
<line x1="515.80" y1="78.00" x2="515.80" y2="100.00" stroke="#c4101c" stroke-width="1.6"/>
<line x1="523.80" y1="79.00" x2="523.80" y2="114.20" stroke="#c4101c" stroke-width="1.6"/>
<line x1="532.30" y1="91.00" x2="532.30" y2="116.00" stroke="#c4101c" stroke-width="1.6"/>
<line x1="540.60" y1="100.00" x2="540.60" y2="119.40" stroke="#c4101c" stroke-width="1.6"/>
<line x1="548.50" y1="108.00" x2="548.50" y2="138.70" stroke="#c4101c" stroke-width="1.6"/>
<line x1="556.50" y1="112.60" x2="556.50" y2="141.30" stroke="#c4101c" stroke-width="1.6"/>
<line x1="565.20" y1="128.90" x2="565.20" y2="158.00" stroke="#c4101c" stroke-width="1.6"/>
<line x1="573.30" y1="135.00" x2="573.30" y2="170.00" stroke="#c4101c" stroke-width="1.6"/>
<line x1="580.60" y1="159.00" x2="580.60" y2="189.90" stroke="#c4101c" stroke-width="1.6"/>
<line x1="588.70" y1="153.50" x2="588.70" y2="199.00" stroke="#c4101c" stroke-width="1.6"/>
<line x1="596.50" y1="157.90" x2="596.50" y2="211.30" stroke="#c4101c" stroke-width="1.6"/>
<line x1="604.50" y1="181.50" x2="604.50" y2="219.20" stroke="#c4101c" stroke-width="1.6"/>
<path d="M491.70,67.20 L496.70,75.60 L486.70,75.60 Z M491.70,70.81 L489.98,73.70 L493.42,73.70 Z" fill="#ff0000" fill-rule="evenodd"/>
<path d="M499.90,67.20 L504.90,75.60 L494.90,75.60 Z M499.90,70.81 L498.18,73.70 L501.62,73.70 Z" fill="#ff0000" fill-rule="evenodd"/>
<path d="M507.60,79.10 L512.60,87.50 L502.60,87.50 Z M507.60,82.71 L505.88,85.60 L509.32,85.60 Z" fill="#ff0000" fill-rule="evenodd"/>
<path d="M515.80,85.10 L520.80,93.50 L510.80,93.50 Z M515.80,88.71 L514.08,91.60 L517.52,91.60 Z" fill="#ff0000" fill-rule="evenodd"/>
<path d="M523.80,91.30 L528.80,99.70 L518.80,99.70 Z M523.80,94.91 L522.08,97.80 L525.52,97.80 Z" fill="#ff0000" fill-rule="evenodd"/>
<path d="M532.30,98.80 L537.30,107.20 L527.30,107.20 Z M532.30,102.41 L530.58,105.30 L534.02,105.30 Z" fill="#ff0000" fill-rule="evenodd"/>
<path d="M540.60,107.30 L545.60,115.70 L535.60,115.70 Z M540.60,110.91 L538.88,113.80 L542.32,113.80 Z" fill="#ff0000" fill-rule="evenodd"/>
<path d="M548.50,117.30 L553.50,125.70 L543.50,125.70 Z M548.50,120.91 L546.78,123.80 L550.22,123.80 Z" fill="#ff0000" fill-rule="evenodd"/>
<path d="M556.50,124.40 L561.50,132.80 L551.50,132.80 Z M556.50,128.01 L554.78,130.90 L558.22,130.90 Z" fill="#ff0000" fill-rule="evenodd"/>
<path d="M565.20,141.80 L570.20,150.20 L560.20,150.20 Z M565.20,145.41 L563.48,148.30 L566.92,148.30 Z" fill="#ff0000" fill-rule="evenodd"/>
<path d="M573.30,151.00 L578.30,159.40 L568.30,159.40 Z M573.30,154.61 L571.58,157.50 L575.02,157.50 Z" fill="#ff0000" fill-rule="evenodd"/>
<path d="M580.60,169.80 L585.60,178.20 L575.60,178.20 Z M580.60,173.41 L578.88,176.30 L582.32,176.30 Z" fill="#ff0000" fill-rule="evenodd"/>
<path d="M588.70,172.30 L593.70,180.70 L583.70,180.70 Z M588.70,175.91 L586.98,178.80 L590.42,178.80 Z" fill="#ff0000" fill-rule="evenodd"/>
<path d="M596.50,180.80 L601.50,189.20 L591.50,189.20 Z M596.50,184.41 L594.78,187.30 L598.22,187.30 Z" fill="#ff0000" fill-rule="evenodd"/>
<path d="M604.50,194.80 L609.50,203.20 L599.50,203.20 Z M604.50,198.41 L602.78,201.30 L606.22,201.30 Z" fill="#ff0000" fill-rule="evenodd"/>
<path d="M380.50,60.76 L382.84,60.89 L385.17,61.02 L387.51,61.14 L389.84,61.26 L392.18,61.39 L394.51,61.51 L396.85,61.64 L399.18,61.77 L401.52,61.90 L403.85,62.04 L406.19,62.19 L408.52,62.34 L410.86,62.51 L413.19,62.69 L415.53,62.88 L417.87,63.08 L420.20,63.30 L422.54,63.53 L424.87,63.78 L427.21,64.05 L429.54,64.34 L431.88,64.65 L434.21,64.98 L436.55,65.34 L438.88,65.72 L441.22,66.13 L443.55,66.56 L445.89,67.02 L448.23,67.51 L450.56,68.04 L452.90,68.59 L455.23,69.18 L457.57,69.80 L459.90,70.46 L462.24,71.16 L464.57,71.89 L466.91,72.67 L469.24,73.48 L471.58,74.34 L473.91,75.24 L476.25,76.18 L478.58,77.18 L480.92,78.21 L483.26,79.30 L485.59,80.44 L487.93,81.62 L490.26,82.86 L492.60,84.16 L494.93,85.50 L497.27,86.91 L499.60,88.37 L501.94,89.88 L504.27,91.46 L506.61,93.10 L508.94,94.80 L511.28,96.57 L513.62,98.40 L515.95,100.29 L518.29,102.25 L520.62,104.28 L522.96,106.38 L525.29,108.55 L527.63,110.79 L529.96,113.09 L532.30,115.46 L534.63,117.89 L536.97,120.37 L539.30,122.91 L541.64,125.51 L543.97,128.15 L546.31,130.84 L548.65,133.58 L550.98,136.36 L553.32,139.18 L555.65,142.04 L557.99,144.93 L560.32,147.86 L562.66,150.82 L564.99,153.80 L567.33,156.81 L569.66,159.85 L572.00,162.90 L574.33,165.97 L576.67,169.06 L579.01,172.16 L581.34,175.27 L583.68,178.39 L586.01,181.52 L588.35,184.67 L590.68,187.84 L593.02,191.04 L595.35,194.25 L597.69,197.49 L600.02,200.76 L602.36,204.07 L604.69,207.40 L607.03,210.77 L609.36,214.18 L611.70,217.64" fill="none" stroke="#0000dd" stroke-width="2.2"/>
<rect x="206.5" y="20.5" width="109" height="67" fill="#fff" stroke="#222" stroke-width="1"/>
<circle cx="223.9" cy="30.7" r="3.2" fill="none" stroke="#111" stroke-width="1.1"/>
<text x="239.2" y="32.9" font-family='"Liberation Sans", sans-serif' font-size="12.2" fill="#1e1e1e">Different v<tspan font-size="8.3" dx="0.5" dy="6.0">c</tspan></text>
<path d="M221.6,46.3 L226.4,51.1 M226.4,46.3 L221.6,51.1" stroke="#0000dd" stroke-width="1.1"/>
<text x="239.2" y="52.5" font-family='"Liberation Sans", sans-serif' font-size="12.2" fill="#1e1e1e">Different v</text>
<path d="M224.2,58.9 L228.4,66 L220,66 Z" fill="none" stroke="#ff0000" stroke-width="1.1"/>
<text x="239.2" y="67.8" font-family='"Liberation Sans", sans-serif' font-size="12.2" fill="#1e1e1e">Different PSF</text>
<line x1="211.6" y1="78.4" x2="236.6" y2="78.4" stroke="#0000dd" stroke-width="2"/>
<text x="239.2" y="82.9" font-family='"Liberation Sans", sans-serif' font-size="12.2" fill="#1e1e1e">Theory</text>
</svg></body></html>
